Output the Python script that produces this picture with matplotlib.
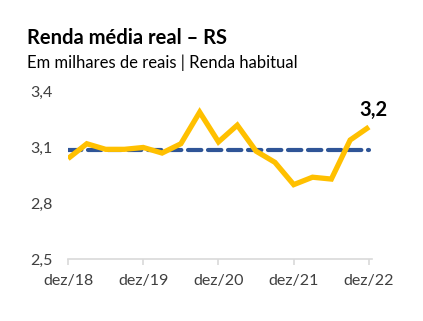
import matplotlib
matplotlib.use('Agg')
import matplotlib.pyplot as plt

plt.rcParams['font.family'] = ['Lato', 'DejaVu Sans']

# renda media real trimestral (R$ mil), dez/18 a dez/22
renda = [3.04, 3.12, 3.09, 3.09, 3.10, 3.07, 3.12, 3.29, 3.13,
         3.22, 3.08, 3.02, 2.90, 2.94, 2.93, 3.14, 3.21]
media = 3.086
rotulos = ['dez/18', 'dez/19', 'dez/20', 'dez/21', 'dez/22']
pos_rotulos = [0, 4, 8, 12, 16]
yticks = [2.5, 2.8, 3.1, 3.4]

x = list(range(len(renda)))

fig = plt.figure(figsize=(4.23, 3.21), dpi=100)
ax = fig.add_axes([68 / 423, 62 / 321, 304 / 423, 167.3 / 321])

ax.plot(x, [media] * len(x), color='#2F5597', lw=3, ls=(0, (3.2, 1.6)),
        dash_capstyle='round', zorder=2)
ax.plot(x, renda, color='#FFC000', lw=3.8, solid_joinstyle='miter',
        solid_capstyle='butt', zorder=3)

ax.annotate('3,2', (x[-1], renda[-1]), xytext=(3, 5), textcoords='offset points',
            ha='center', va='bottom', fontsize=14.5, fontweight='bold', color='black')

ax.set_xlim(0, 304 / 18.81)
ax.set_ylim(2.5, 3.4)
ax.set_yticks(yticks)
ax.set_yticklabels([f'{v:.1f}'.replace('.', ',') for v in yticks])
ax.set_xticks(pos_rotulos)
ax.set_xticklabels(rotulos)

for s in ['top', 'right', 'left']:
    ax.spines[s].set_visible(False)
ax.spines['bottom'].set_color('#D9D9D9')
ax.spines['bottom'].set_linewidth(1.2)
ax.tick_params(axis='y', length=0, pad=11, labelsize=11.5, labelcolor='#404040')
ax.tick_params(axis='x', length=4, width=1.2, color='#D9D9D9', pad=7,
               labelsize=11.5, labelcolor='#404040')

fig.text(27 / 423, 1 - 38 / 321, 'Renda média real – RS', fontsize=14.5,
         fontweight='bold', va='center', ha='left')
fig.text(27 / 423, 1 - 63 / 321, 'Em milhares de reais | Renda habitual',
         fontsize=12, va='center', ha='left')

fig.savefig('out.png', dpi=100)
